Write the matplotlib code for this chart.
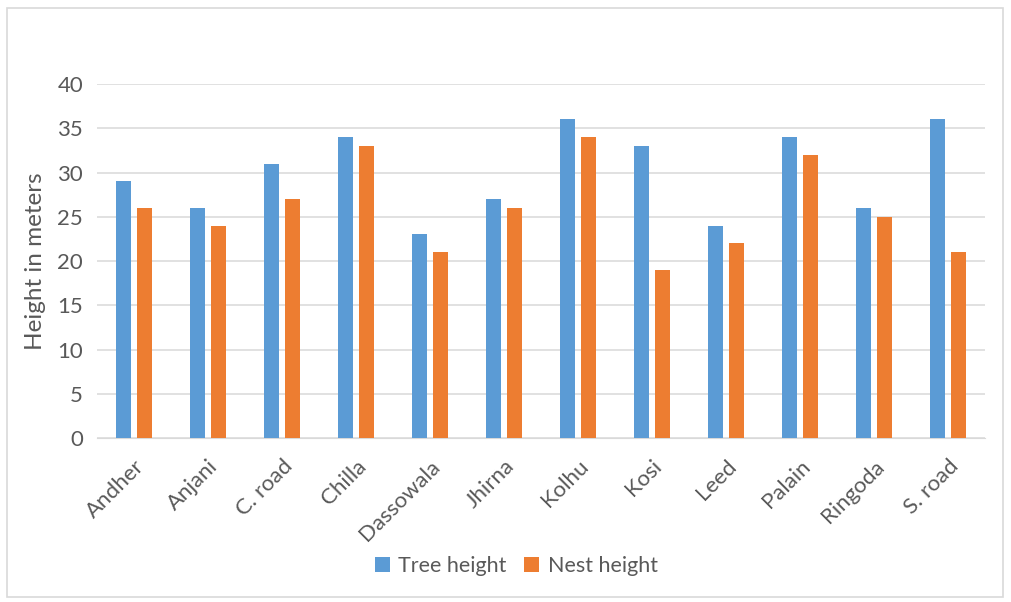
import matplotlib as mpl
mpl.use('Agg')
from matplotlib import pyplot as plt
from matplotlib.patches import Rectangle
import numpy as np

mpl.rcParams.update({'font.family': ['Lato', 'DejaVu Sans']})

sites = ['Andher', 'Anjani', 'C. road', 'Chilla', 'Dassowala', 'Jhirna',
         'Kolhu', 'Kosi', 'Leed', 'Palain', 'Ringoda', 'S. road']
tree_height = [29, 26, 31, 34, 23, 27, 36, 33, 24, 34, 26, 36]
nest_height = [26, 24, 27, 33, 21, 26, 34, 19, 22, 32, 25, 21]
yticks = [0, 5, 10, 15, 20, 25, 30, 35, 40]

blue = '#5B9BD5'
orange = '#ED7D31'
txt = '#595959'
grid = '#D9D9D9'

fig = plt.figure(figsize=(10.12, 6.02), dpi=100)
fig.patches.append(Rectangle((0.007, 0.008), 0.984, 0.978, transform=fig.transFigure,
                             fill=False, edgecolor=grid, linewidth=1.2))

ax = fig.add_axes([0.0958, 0.2724, 0.8775, 0.588])
x = np.arange(len(sites))
width = 0.2
ax.bar(x - 0.142, tree_height, width, color=blue, label='Tree height', zorder=3)
ax.bar(x + 0.142, nest_height, width, color=orange, label='Nest height', zorder=3)

ax.set_xlim(-0.5, len(sites) - 0.5)
ax.set_ylim(0, 40)
ax.set_yticks(yticks)
ax.yaxis.grid(True, color=grid, linewidth=1.1, zorder=0)
ax.set_axisbelow(True)
for s in ['top', 'right', 'left']:
    ax.spines[s].set_visible(False)
ax.spines['bottom'].set_color(grid)
ax.tick_params(axis='both', length=0, colors=txt, labelsize=16)
ax.tick_params(axis='y', pad=10)
ax.set_xticks(x)
ax.set_xticklabels(sites, rotation=45, ha='right', va='top', rotation_mode='anchor')
ax.tick_params(axis='x', pad=13)
ax.set_ylabel('Height in meters', color=txt, fontsize=17.5, labelpad=8)

fig.legend(loc='center', bbox_to_anchor=(0.51, 0.06), ncol=2, frameon=False,
           fontsize=15.5, labelcolor=txt, handlelength=0.7, handleheight=0.7,
           handletextpad=0.4, columnspacing=0.8)

plt.savefig('out.png', dpi=100)
